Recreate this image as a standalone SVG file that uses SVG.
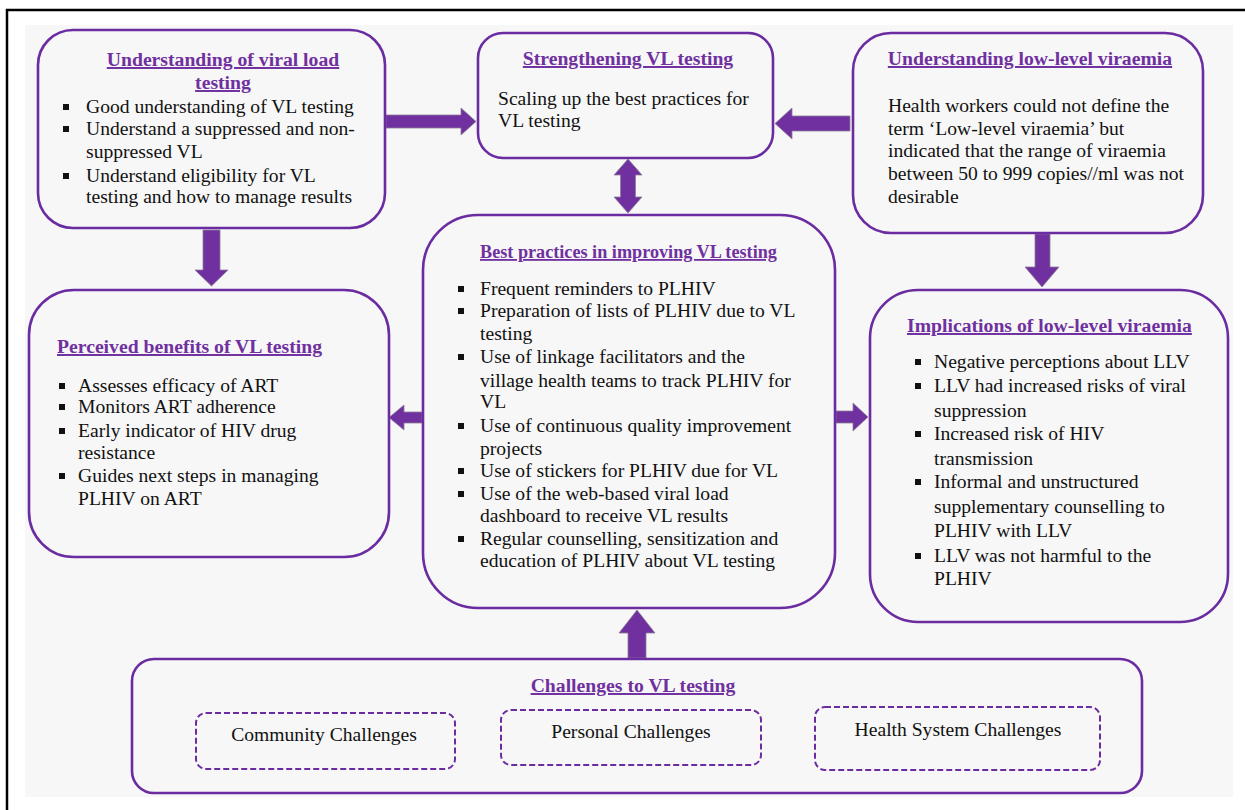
<svg xmlns="http://www.w3.org/2000/svg" width="1245" height="810" viewBox="0 0 1245 810">
<style>
.box{fill:none;stroke:#6a2ca0;stroke-width:2.6}
.dash{fill:none;stroke:#6a2ca0;stroke-width:2;stroke-dasharray:6 3}
.arr{fill:#7030a0;stroke:#8c7f96;stroke-width:0.8}
.t{font-family:"Liberation Serif","Times New Roman",serif;font-weight:bold;font-size:19.7px;fill:#7030a0;text-decoration:underline}
.b{font-family:"Liberation Serif","Times New Roman",serif;font-size:19.6px;fill:#111}
.bl{fill:#111}
</style>
<rect x="0" y="0" width="1245" height="810" fill="#ffffff"/>
<rect x="25" y="25" width="1208" height="772" fill="#f7f7f7"/>
<path d="M7,810 V10 H1245" fill="none" stroke="#000" stroke-width="2.5"/>

<g id="connectors">
<polygon class="arr" points="386,115 461,115 461,108 476,121.5 461,135 461,128 386,128"/>
<polygon class="arr" points="850,116 792,116 792,108 775,123.5 792,139 792,131 850,131"/>
<polygon class="arr" points="628,159 642,175 635.5,175 635.5,197 642,197 628,213 614,197 620.5,197 620.5,175 614,175"/>
<polygon class="arr" points="203,230 220,230 220,270 228,270 211.5,286 195,270 203,270"/>
<polygon class="arr" points="1035,234 1050,234 1050,267 1059,267 1042,287 1025,267 1035,267"/>
<polygon class="arr" points="422,412 404,412 404,405 389,417.5 404,430 404,423 422,423"/>
<polygon class="arr" points="836,411 853,411 853,403 868,417 853,431 853,423 836,423"/>
<polygon class="arr" points="628,658 646,658 646,633 655,633 637,610 619,633 628,633"/>
</g>

<g id="node-understanding-vl">
<rect class="box" x="38" y="30" width="347" height="198" rx="35"/>
<text class="t" x="223" y="66" text-anchor="middle">Understanding of viral load</text>
<text class="t" x="223" y="89" text-anchor="middle">testing</text>
<rect class="bl" x="63" y="104" width="6" height="6"/>
<rect class="bl" x="63" y="126" width="6" height="6"/>
<rect class="bl" x="63" y="173" width="6" height="6"/>
<text class="b" x="86" y="113">Good understanding of VL testing</text>
<text class="b" x="86" y="135">Understand a suppressed and non-</text>
<text class="b" x="86" y="158">suppressed VL</text>
<text class="b" x="86" y="182">Understand eligibility for VL</text>
<text class="b" x="86" y="203">testing and how to manage results</text>
</g>

<g id="node-strengthening">
<rect class="box" x="478" y="33" width="295" height="125" rx="25"/>
<text class="t" x="628" y="65" text-anchor="middle">Strengthening VL testing</text>
<text class="b" x="498" y="105">Scaling up the best practices for</text>
<text class="b" x="498" y="127">VL testing</text>
</g>

<g id="node-understanding-llv">
<rect class="box" x="853" y="33" width="350" height="200" rx="38"/>
<text class="t" x="1030" y="65" text-anchor="middle">Understanding low-level viraemia</text>
<text class="b" x="888" y="112">Health workers could not define the</text>
<text class="b" x="888" y="135">term ‘Low-level viraemia’ but</text>
<text class="b" x="888" y="157">indicated that the range of viraemia</text>
<text class="b" x="888" y="180">between 50 to 999 copies//ml was not</text>
<text class="b" x="888" y="203">desirable</text>
</g>

<g id="node-benefits">
<rect class="box" x="29" y="290" width="360" height="267" rx="45"/>
<text class="t" x="57" y="353">Perceived benefits of VL testing</text>
<rect class="bl" x="59" y="383" width="6" height="6"/>
<rect class="bl" x="59" y="404" width="6" height="6"/>
<rect class="bl" x="59" y="428" width="6" height="6"/>
<rect class="bl" x="59" y="473" width="6" height="6"/>
<text class="b" x="78" y="392">Assesses efficacy of ART</text>
<text class="b" x="78" y="413">Monitors ART adherence</text>
<text class="b" x="78" y="437">Early indicator of HIV drug</text>
<text class="b" x="78" y="459">resistance</text>
<text class="b" x="78" y="482">Guides next steps in managing</text>
<text class="b" x="78" y="505">PLHIV on ART</text>
</g>

<g id="node-best-practices">
<rect class="box" x="423" y="215" width="412" height="393" rx="55"/>
<text class="t" x="480" y="258" style="font-size:18.2px">Best practices in improving VL testing</text>
<rect class="bl" x="458" y="286" width="6" height="6"/>
<rect class="bl" x="458" y="308" width="6" height="6"/>
<rect class="bl" x="458" y="354" width="6" height="6"/>
<rect class="bl" x="458" y="423" width="6" height="6"/>
<rect class="bl" x="458" y="468" width="6" height="6"/>
<rect class="bl" x="458" y="491" width="6" height="6"/>
<rect class="bl" x="458" y="536" width="6" height="6"/>
<text class="b" x="480" y="295">Frequent reminders to PLHIV</text>
<text class="b" x="480" y="317">Preparation of lists of PLHIV due to VL</text>
<text class="b" x="480" y="340">testing</text>
<text class="b" x="480" y="363">Use of linkage facilitators and the</text>
<text class="b" x="480" y="387">village health teams to track PLHIV for</text>
<text class="b" x="480" y="408">VL</text>
<text class="b" x="480" y="432">Use of continuous quality improvement</text>
<text class="b" x="480" y="455">projects</text>
<text class="b" x="480" y="477">Use of stickers for PLHIV due for VL</text>
<text class="b" x="480" y="500">Use of the web-based viral load</text>
<text class="b" x="480" y="522">dashboard to receive VL results</text>
<text class="b" x="480" y="545">Regular counselling, sensitization and</text>
<text class="b" x="480" y="567">education of PLHIV about VL testing</text>
</g>

<g id="node-implications">
<rect class="box" x="870" y="290" width="358" height="332" rx="48"/>
<text class="t" x="907" y="332">Implications of low-level viraemia</text>
<rect class="bl" x="915" y="359" width="6" height="6"/>
<rect class="bl" x="915" y="383" width="6" height="6"/>
<rect class="bl" x="915" y="431" width="6" height="6"/>
<rect class="bl" x="915" y="479" width="6" height="6"/>
<rect class="bl" x="915" y="553" width="6" height="6"/>
<text class="b" x="934" y="368">Negative perceptions about LLV</text>
<text class="b" x="934" y="392">LLV had increased risks of viral</text>
<text class="b" x="934" y="417">suppression</text>
<text class="b" x="934" y="440">Increased risk of HIV</text>
<text class="b" x="934" y="465">transmission</text>
<text class="b" x="934" y="488">Informal and unstructured</text>
<text class="b" x="934" y="513">supplementary counselling to</text>
<text class="b" x="934" y="537">PLHIV with LLV</text>
<text class="b" x="934" y="562">LLV was not harmful to the</text>
<text class="b" x="934" y="585">PLHIV</text>
</g>

<g id="node-challenges">
<rect class="box" x="132" y="659" width="1010" height="134" rx="22"/>
<text class="t" x="633" y="692" text-anchor="middle">Challenges to VL testing</text>
</g>
<g id="node-community">
<rect class="dash" x="196" y="713" width="259" height="56" rx="10"/>
<text class="b" x="324" y="741" text-anchor="middle">Community Challenges</text>
</g>
<g id="node-personal">
<rect class="dash" x="501" y="710" width="260" height="55" rx="10"/>
<text class="b" x="631" y="738" text-anchor="middle">Personal Challenges</text>
</g>
<g id="node-health-system">
<rect class="dash" x="815" y="707" width="285" height="63" rx="10"/>
<text class="b" x="958" y="736" text-anchor="middle">Health System Challenges</text>
</g>
</svg>
